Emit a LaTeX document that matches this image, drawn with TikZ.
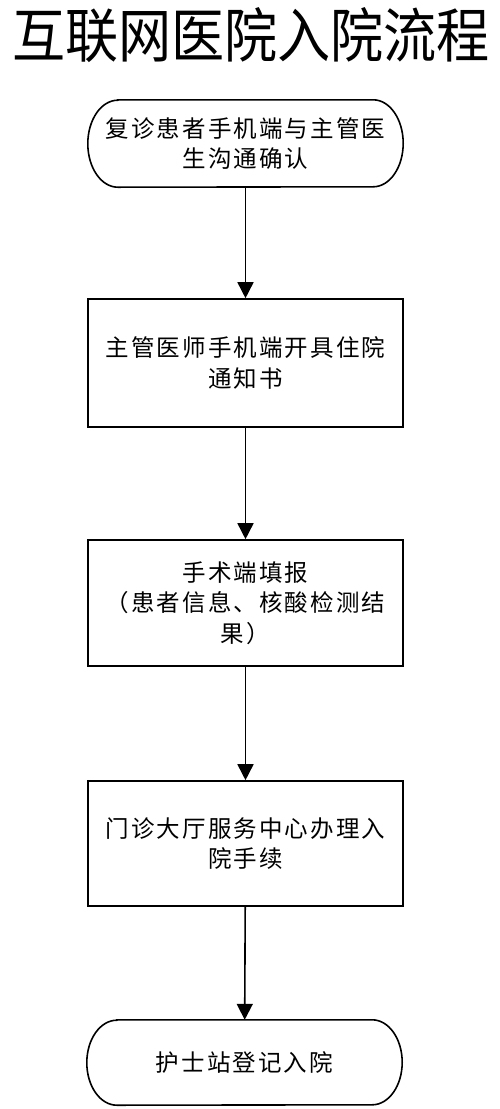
\documentclass[tikz,border=0pt]{standalone}
\usepackage{fontspec}
\newfontfamily\cjk[LetterSpace=9]{Noto Sans CJK SC}
\newfontfamily\cjktitle{Noto Sans CJK SC}
\usetikzlibrary{arrows.meta}
\tikzset{
  x=1pt,y=1pt,
  box/.style={draw,line width=1.6pt,minimum width=315pt,align=center,inner sep=0pt,
    font=\cjk\fontsize{23.5}{30.5}\selectfont},
  term/.style={draw=none,minimum width=315pt,align=center,inner sep=0pt,
    font=\cjk\fontsize{23.5}{30.5}\selectfont},
  outline/.style={line width=1.6pt},
  flow/.style={line width=1.6pt,-{Triangle[width=16pt,length=16pt]}}
}
\begin{document}
\begin{tikzpicture}
\useasboundingbox (0,0) rectangle (500,-1109);
\node[font=\cjktitle\fontsize{50}{56}\selectfont,inner sep=0pt] (title) at (251,-35)
  {\resizebox{478pt}{50pt}{互联网医院入院流程}};
\node[term,minimum height=87pt] (n1) at (245.5,-143.5) {复诊患者手机端与主管医\\生沟通确认};
\node[box,minimum height=128pt] (n2) at (245.5,-363) {主管医师手机端开具住院\\通知书};
\node[box,minimum height=126pt] (n3) at (245.5,-603) {手术端填报\\（患者信息、核酸检测结\\果）};
\node[box,minimum height=125pt] (n4) at (245.5,-843.5) {门诊大厅服务中心办理入\\院手续};
\node[term,minimum height=85pt] (n5) at (244.5,-1062.5) {护士站登记入院};
\foreach \n/\ry in {n1/43.5,n5/42.5}{
  \draw[outline] ([xshift=30pt]\n.north west) -- ([xshift=-30pt]\n.north east)
    arc[start angle=90,end angle=-90,x radius=30pt,y radius=\ry pt]
    -- ([xshift=30pt]\n.south west)
    arc[start angle=270,end angle=90,x radius=30pt,y radius=\ry pt] -- cycle;
}
\draw[flow] (n1) -- (n2);
\draw[flow] (n2) -- (n3);
\draw[flow] (n3) -- (n4);
\draw[flow] (n4) -- (n5);
\end{tikzpicture}
\end{document}
